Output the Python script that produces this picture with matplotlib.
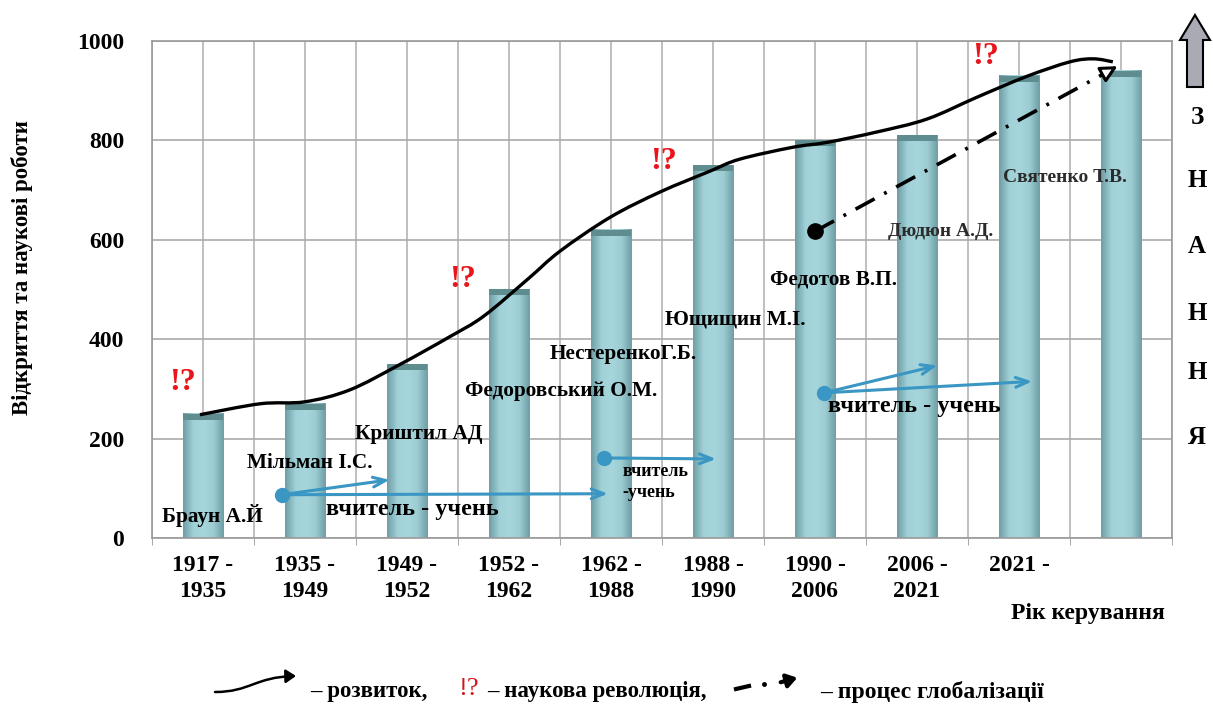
import numpy as np
import matplotlib
matplotlib.use('Agg')
import matplotlib.pyplot as plt
from matplotlib.colors import LinearSegmentedColormap
from matplotlib.patches import Polygon, FancyArrowPatch, PathPatch
from matplotlib.path import Path

plt.rcParams['font.family'] = ['Liberation Serif', 'DejaVu Serif']
plt.rcParams['font.weight'] = 'bold'

# періоди керування та кількість відкриттів
periods = ['1917 -\n1935', '1935 -\n1949', '1949 -\n1952', '1952 -\n1962', '1962 -\n1988',
           '1988 -\n1990', '1990 -\n2006', '2006 -\n2021', '2021 -', '']
values = [250, 270, 350, 500, 620, 750, 800, 810, 930, 940]

# керівники (позиція підпису: індекс періоду, значення)
names = ['Браун А.Й', 'Мільман І.С.', 'Криштил АД', 'Федоровський О.М.', 'НестеренкоГ.Б.',
         'Ющищин М.І.', 'Федотов В.П.', 'Дюдюн А.Д.', 'Святенко Т.В.']
name_x = [-0.40, 0.43, 1.49, 2.57, 3.40, 4.53, 5.56, 6.72, 7.84]
name_y = [46, 151, 210, 296, 371, 440, 520, 617, 726]

# крива розвитку
curve_x = [-0.03, 0.56, 1.0, 1.44, 1.93, 2.42, 2.75, 3.18, 3.5, 3.99, 4.48, 4.97, 5.26,
           5.78, 6.12, 6.61, 7.10, 7.59, 8.08, 8.50, 8.73, 8.92]
curve_y = [248, 270, 274, 298, 349, 405, 446, 520, 577, 645, 696, 738, 762,
           786, 796, 817, 843, 887, 929, 958, 964, 958]

# наукові революції
rev_x = [-0.2, 2.55, 4.52, 7.67]
rev_y = [312, 520, 758, 968]

# глобалізація
glob_start = (6.0, 617)
glob_end = (8.99, 952)

fig = plt.figure(figsize=(12.13, 7.06), dpi=100)
ax = fig.add_axes([0.1253, 0.238, 0.8409, 0.704])

x = np.arange(len(values))
bars = ax.bar(x, values, width=0.4, color='#9fd0d6', zorder=2)

# градієнт на стовпчиках
cmap = LinearSegmentedColormap.from_list('bar', ['#6f9ea5', '#a0d1d7', '#a6d6db', '#9ccdd3', '#6f9ea5'])
grad = np.linspace(0, 1, 64).reshape(1, -1)
for b in bars:
    x0, w, h = b.get_x(), b.get_width(), b.get_height()
    ax.imshow(grad, extent=[x0, x0 + w, 0, h], aspect='auto', cmap=cmap, zorder=2.1)
    ax.bar(x0 + w / 2, 12, width=w, bottom=h - 12, color='#5f8c8f', zorder=2.2)

ax.set_xlim(-0.5, 9.5)
ax.set_ylim(0, 1000)
ax.set_yticks(range(0, 1001, 200))
ax.set_xticks(x)
ax.set_xticklabels(periods, fontsize=17, fontweight='bold', linespacing=1.35)
ax.set_xticks(np.arange(-0.5, 9.6, 0.5), minor=True)
ax.tick_params(axis='x', which='major', length=0, pad=12)
ax.tick_params(axis='x', which='minor', length=5, color='#999999')
ax.tick_params(axis='y', length=0, pad=20, labelsize=17)
for lbl in ax.get_yticklabels():
    lbl.set_fontweight('bold')
ax.grid(True, which='both', axis='x', color='#b4b4b4', lw=1.2, zorder=0)
ax.grid(True, which='major', axis='y', color='#aaaaaa', lw=1.2, zorder=0)
ax.set_axisbelow(True)
for s in ax.spines.values():
    s.set_color('#999999')
    s.set_linewidth(1.2)

fig.text(22 / 1213, 1 - 268 / 706, 'Відкриття та наукові роботи', rotation=90, ha='center',
         va='center', fontsize=16.5, fontweight='bold')
fig.text(1088 / 1213, 1 - 613 / 706, 'Рік керування', ha='center', va='center',
         fontsize=17, fontweight='bold')

# крива розвитку (гладка крива Катмулла-Ромма через точки)
pts = np.column_stack([curve_x, curve_y])
verts = [tuple(pts[0])]
codes = [Path.MOVETO]
for i in range(len(pts) - 1):
    p0 = pts[i - 1] if i > 0 else pts[i]
    p1, p2 = pts[i], pts[i + 1]
    p3 = pts[i + 2] if i + 2 < len(pts) else pts[i + 1]
    verts += [tuple(p1 + (p2 - p0) / 6), tuple(p2 - (p3 - p1) / 6), tuple(p2)]
    codes += [Path.CURVE4] * 3
ax.add_patch(PathPatch(Path(verts, codes), fill=False, ec='black', lw=2.4, zorder=5))

# глобалізація
ax.plot(*glob_start, 'o', color='black', ms=11, zorder=6)
ax.plot([glob_start[0], glob_end[0] - 0.14], [glob_start[1], glob_end[1] - 16], color='black',
        lw=2.6, dashes=(6, 3, 0.8, 3), zorder=5)
ax.annotate('', xy=glob_end, xytext=(glob_end[0] - 0.15, glob_end[1] - 17),
            arrowprops=dict(arrowstyle='-|>,head_length=1.0,head_width=0.5', fc='white', ec='black',
                            lw=2.2), zorder=6)

for rx, ry in zip(rev_x, rev_y):
    ax.text(rx, ry, '!?', color='#e8151b', fontsize=23, fontweight='bold', ha='center',
            va='center', zorder=6)

for i, (n, nx, ny) in enumerate(zip(names, name_x, name_y)):
    col = '#2b2b2b' if i >= 7 else 'black'
    fs = 14 if i >= 7 else 15.3
    ax.text(nx, ny, n, fontsize=fs, fontweight='bold', ha='left', va='center', color=col, zorder=7)

# вчитель - учень
blue = '#3a96c3'
teach = [((0.77, 87), [(1.83, 117), (3.97, 89)]),
         ((3.93, 161), [(5.03, 159)]),
         ((6.09, 292), [(7.2, 347), (8.13, 315)])]
for (sx, sy), ends in teach:
    ax.plot(sx, sy, 'o', color=blue, ms=10, zorder=6)
    for ex, ey in ends:
        ax.annotate('', xy=(ex, ey), xytext=(sx, sy),
                    arrowprops=dict(arrowstyle='->,head_length=0.9,head_width=0.35', color=blue,
                                    lw=2.2, shrinkA=0, shrinkB=0), zorder=6)
ax.text(1.21, 58, 'вчитель - учень', fontsize=17.5, fontweight='bold', ha='left', va='center', zorder=7)
ax.text(4.11, 113, 'вчитель\n-учень', fontsize=13, fontweight='bold', ha='left', va='center',
        linespacing=1.3, zorder=7)
ax.text(6.13, 264, 'вчитель - учень', fontsize=17.5, fontweight='bold', ha='left', va='center', zorder=7)

# ЗНАННЯ з стрілкою вгору
for ch, py in zip('ЗНАННЯ', [117, 181, 246, 313, 373, 437]):
    fig.text(1197 / 1213, 1 - py / 706, ch, fontsize=18, fontweight='bold', ha='center', va='center')
cx = 11.95
arr = Polygon([(cx - 0.08, 6.19), (cx + 0.08, 6.19), (cx + 0.08, 6.66), (cx + 0.15, 6.66),
               (cx, 6.91), (cx - 0.15, 6.66), (cx - 0.08, 6.66)], closed=True,
              transform=fig.dpi_scale_trans, fc='#a9aab3', ec='black', lw=1.5)
fig.patches.append(arr)

# легенда внизу
ly = 1 - 692 / 706
p = Path([(2.15, 0.14), (2.50, 0.14), (2.55, 0.29), (2.96, 0.30)],
         [Path.MOVETO, Path.CURVE4, Path.CURVE4, Path.CURVE4])
fig.patches.append(FancyArrowPatch(path=p, arrowstyle='-|>,head_length=6,head_width=4',
                                   color='black', lw=1.8, transform=fig.dpi_scale_trans))
fig.text(310 / 1213, ly, '– розвиток,', fontsize=16.5, fontweight='bold', va='center')
fig.text(458 / 1213, ly + 0.004, '!?', fontsize=19, fontweight='normal', color='#d0141a', va='center')
fig.text(487 / 1213, ly, '– наукова революція,', fontsize=16.5, fontweight='bold', va='center')
fig.lines.append(plt.Line2D([7.36, 7.49], [0.17, 0.20], color='black', lw=3,
                            transform=fig.dpi_scale_trans))
fig.lines.append(plt.Line2D([7.64], [0.22], marker='o', ms=2.5, color='black',
                            transform=fig.dpi_scale_trans))
fig.patches.append(FancyArrowPatch((7.78, 0.23), (8.0, 0.29), arrowstyle='-|>,head_length=6,head_width=4',
                                   color='black', lw=3, transform=fig.dpi_scale_trans))
fig.text(820 / 1213, ly, '– процес глобалізації', fontsize=17, fontweight='bold', va='center')

fig.savefig('out.png', dpi=100)
